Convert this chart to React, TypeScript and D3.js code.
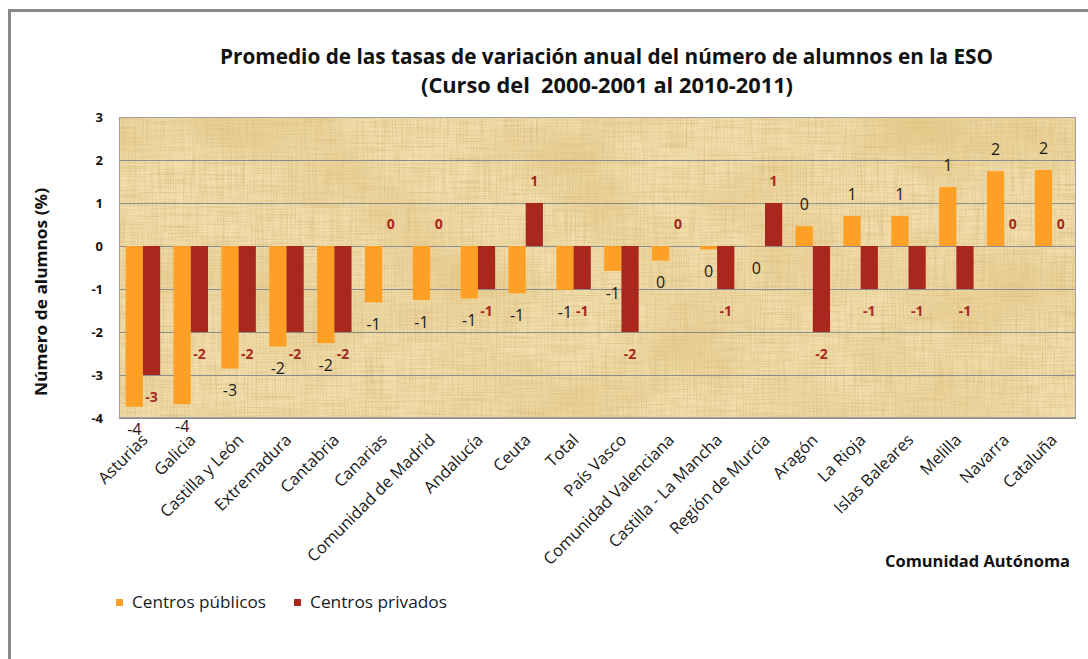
import React from "react";
import * as d3 from "d3";

const categories = [
  "Asturias", "Galicia", "Castilla y León", "Extremadura", "Cantabria", "Canarias",
  "Comunidad de Madrid", "Andalucía", "Ceuta", "Total", "País Vasco",
  "Comunidad Valenciana", "Castilla - La Mancha", "Región de Murcia", "Aragón",
  "La Rioja", "Islas Baleares", "Melilla", "Navarra", "Cataluña",
];
const publicos = [
  -3.74, -3.68, -2.85, -2.34, -2.26, -1.31, -1.26, -1.22, -1.1, -1.02, -0.58,
  -0.34, -0.08, -0.01, 0.46, 0.7, 0.7, 1.37, 1.74, 1.77,
];
const privados = [
  -3, -2, -2, -2, -2, 0, 0, -1, 1, -1, -2, 0, -1, 1, -2, -1, -1, -1, 0, 0,
];
const yTicks = [3, 2, 1, 0, -1, -2, -3, -4];
const seriesNames = ["Centros públicos", "Centros privados"];
const titleLines = [
  "Promedio de las tasas de variación anual del número de alumnos en la ESO",
  "(Curso del  2000-2001 al 2010-2011)",
];

const W = 1088;
const H = 659;
const plot = { left: 119, right: 1076, top: 117, bottom: 418 };
const ORANGE = "#FFA026";
const RED = "#A8281E";
const FONT = "'Open Sans', 'DejaVu Sans', sans-serif";

const fmt = (v: number) => {
  const r = Math.round(v);
  return String(r === 0 ? 0 : r);
};

const textures = [
  { id: "fibV", freq: "0.9 0.02", seed: 4, color: "0.80 0.66 0.40", gain: 0.9, bias: -0.38 },
  { id: "fibH", freq: "0.02 0.9", seed: 9, color: "0.80 0.66 0.40", gain: 0.9, bias: -0.38 },
  { id: "blot", freq: "0.008 0.012", seed: 2, color: "0.88 0.76 0.50", gain: 1.4, bias: -0.6 },
];

export default function App() {
  const x = d3.scaleBand<string>().domain(categories).range([plot.left, plot.right]);
  const y = d3.scaleLinear().domain([-4, 3]).range([plot.bottom, plot.top]);
  const step = x.step();
  const bw = step * 0.36;
  const off = 22;

  const labelY = (v: number, fs: number) => {
    const c = v < 0 ? y(v) + off : y(v) - off;
    return c + fs * 0.36;
  };

  const pw = plot.right - plot.left;
  const ph = plot.bottom - plot.top;

  return (
    <svg
      width={W}
      height={H}
      style={{ position: "absolute", left: 0, top: 0, display: "block", background: "#fff" }}
      fontFamily={FONT}
    >
      <defs>
        {textures.map((t) => {
          const [r, g, b] = t.color.split(" ");
          return (
            <filter
              key={t.id}
              id={t.id}
              x="0"
              y="0"
              width="100%"
              height="100%"
              colorInterpolationFilters="sRGB"
            >
              <feTurbulence type="fractalNoise" baseFrequency={t.freq} numOctaves={3} seed={t.seed} />
              <feColorMatrix
                type="matrix"
                values={`0 0 0 0 ${r}  0 0 0 0 ${g}  0 0 0 0 ${b}  ${t.gain} 0 0 0 ${t.bias}`}
              />
            </filter>
          );
        })}
      </defs>

      {/* outer frame */}
      <line x1={8} x2={W} y1={10.5} y2={10.5} stroke="#8a8a8a" strokeWidth={3} />
      <line x1={9.5} x2={9.5} y1={9} y2={H} stroke="#8a8a8a" strokeWidth={3} />

      {/* title */}
      {titleLines.map((t, i) => (
        <text
          key={i}
          x={i === 0 ? 220 : 421}
          y={i === 0 ? 64 : 93}
          fontSize={21}
          fontWeight={700}
          fill="#111"
          textLength={i === 0 ? 773 : 372}
          lengthAdjust="spacingAndGlyphs"
          style={{ whiteSpace: "pre" }}
        >
          {t}
        </text>
      ))}

      {/* plot background */}
      <rect x={plot.left} y={plot.top} width={pw} height={ph} fill="#F2DFAD" />
      {textures.map((t) => (
        <rect
          key={t.id}
          x={plot.left}
          y={plot.top}
          width={pw}
          height={ph}
          fill="#fff"
          filter={`url(#${t.id})`}
        />
      ))}

      {/* gridlines */}
      {yTicks.map((t) => (
        <line
          key={t}
          x1={plot.left}
          x2={plot.right}
          y1={Math.round(y(t)) + 0.5}
          y2={Math.round(y(t)) + 0.5}
          stroke="#8c8c8c"
          strokeWidth={1}
        />
      ))}
      <rect
        x={plot.left + 0.5}
        y={plot.top + 0.5}
        width={pw - 1}
        height={ph - 1}
        fill="none"
        stroke="#a0a0a0"
      />

      {/* y tick labels */}
      {yTicks.map((t) => (
        <text
          key={t}
          x={103}
          y={y(t) + 5}
          textAnchor="end"
          fontSize={13}
          fontWeight={700}
          fill="#111"
        >
          {t}
        </text>
      ))}

      {/* y title */}
      <text
        transform={`translate(47,292) rotate(-90)`}
        textAnchor="middle"
        fontSize={16}
        fontWeight={700}
        fill="#111"
        textLength={208}
        lengthAdjust="spacingAndGlyphs"
      >
        Número de alumnos (%)
      </text>

      {/* bars */}
      {categories.map((c, i) => {
        const cx = (x(c) as number) + step / 2;
        const p = publicos[i];
        const q = privados[i];
        return (
          <g key={c}>
            <rect
              x={cx - bw}
              y={Math.min(y(0), y(p))}
              width={bw}
              height={Math.abs(y(p) - y(0))}
              fill={ORANGE}
            />
            <rect
              x={cx}
              y={Math.min(y(0), y(q))}
              width={bw}
              height={Math.abs(y(q) - y(0))}
              fill={RED}
            />
          </g>
        );
      })}

      {/* data labels */}
      {categories.map((c, i) => {
        const cx = (x(c) as number) + step / 2;
        const p = publicos[i];
        const q = privados[i];
        return (
          <g key={c + "l"}>
            <text
              x={cx - bw / 2}
              y={labelY(p, 16)}
              textAnchor="middle"
              fontSize={16}
              fill="#1a1a1a"
            >
              {fmt(p)}
            </text>
            <text
              x={cx + bw / 2}
              y={labelY(q, 14)}
              textAnchor="middle"
              fontSize={14}
              fontWeight={700}
              fill={RED}
            >
              {fmt(q)}
            </text>
          </g>
        );
      })}

      {/* x labels */}
      {categories.map((c) => {
        const cx = (x(c) as number) + step / 2;
        return (
          <text
            key={c + "x"}
            transform={`translate(${cx + 6},${441}) rotate(-45)`}
            textAnchor="end"
            fontSize={16.5}
            fill="#1a1a1a"
          >
            {c}
          </text>
        );
      })}

      {/* x title */}
      <text x={1070} y={567} textAnchor="end" fontSize={16} fontWeight={700} fill="#111"
        textLength={185} lengthAdjust="spacingAndGlyphs">
        Comunidad Autónoma
      </text>

      {/* legend */}
      {seriesNames.map((s, i) => {
        const lx = i === 0 ? 116 : 294;
        return (
          <g key={s}>
            <rect x={lx} y={599} width={7} height={7} fill={i === 0 ? ORANGE : RED} />
            <text x={lx + 16} y={608} fontSize={16.5} fill="#1a1a1a"
              textLength={i === 0 ? 134 : 137} lengthAdjust="spacingAndGlyphs">
              {s}
            </text>
          </g>
        );
      })}
    </svg>
  );
}
